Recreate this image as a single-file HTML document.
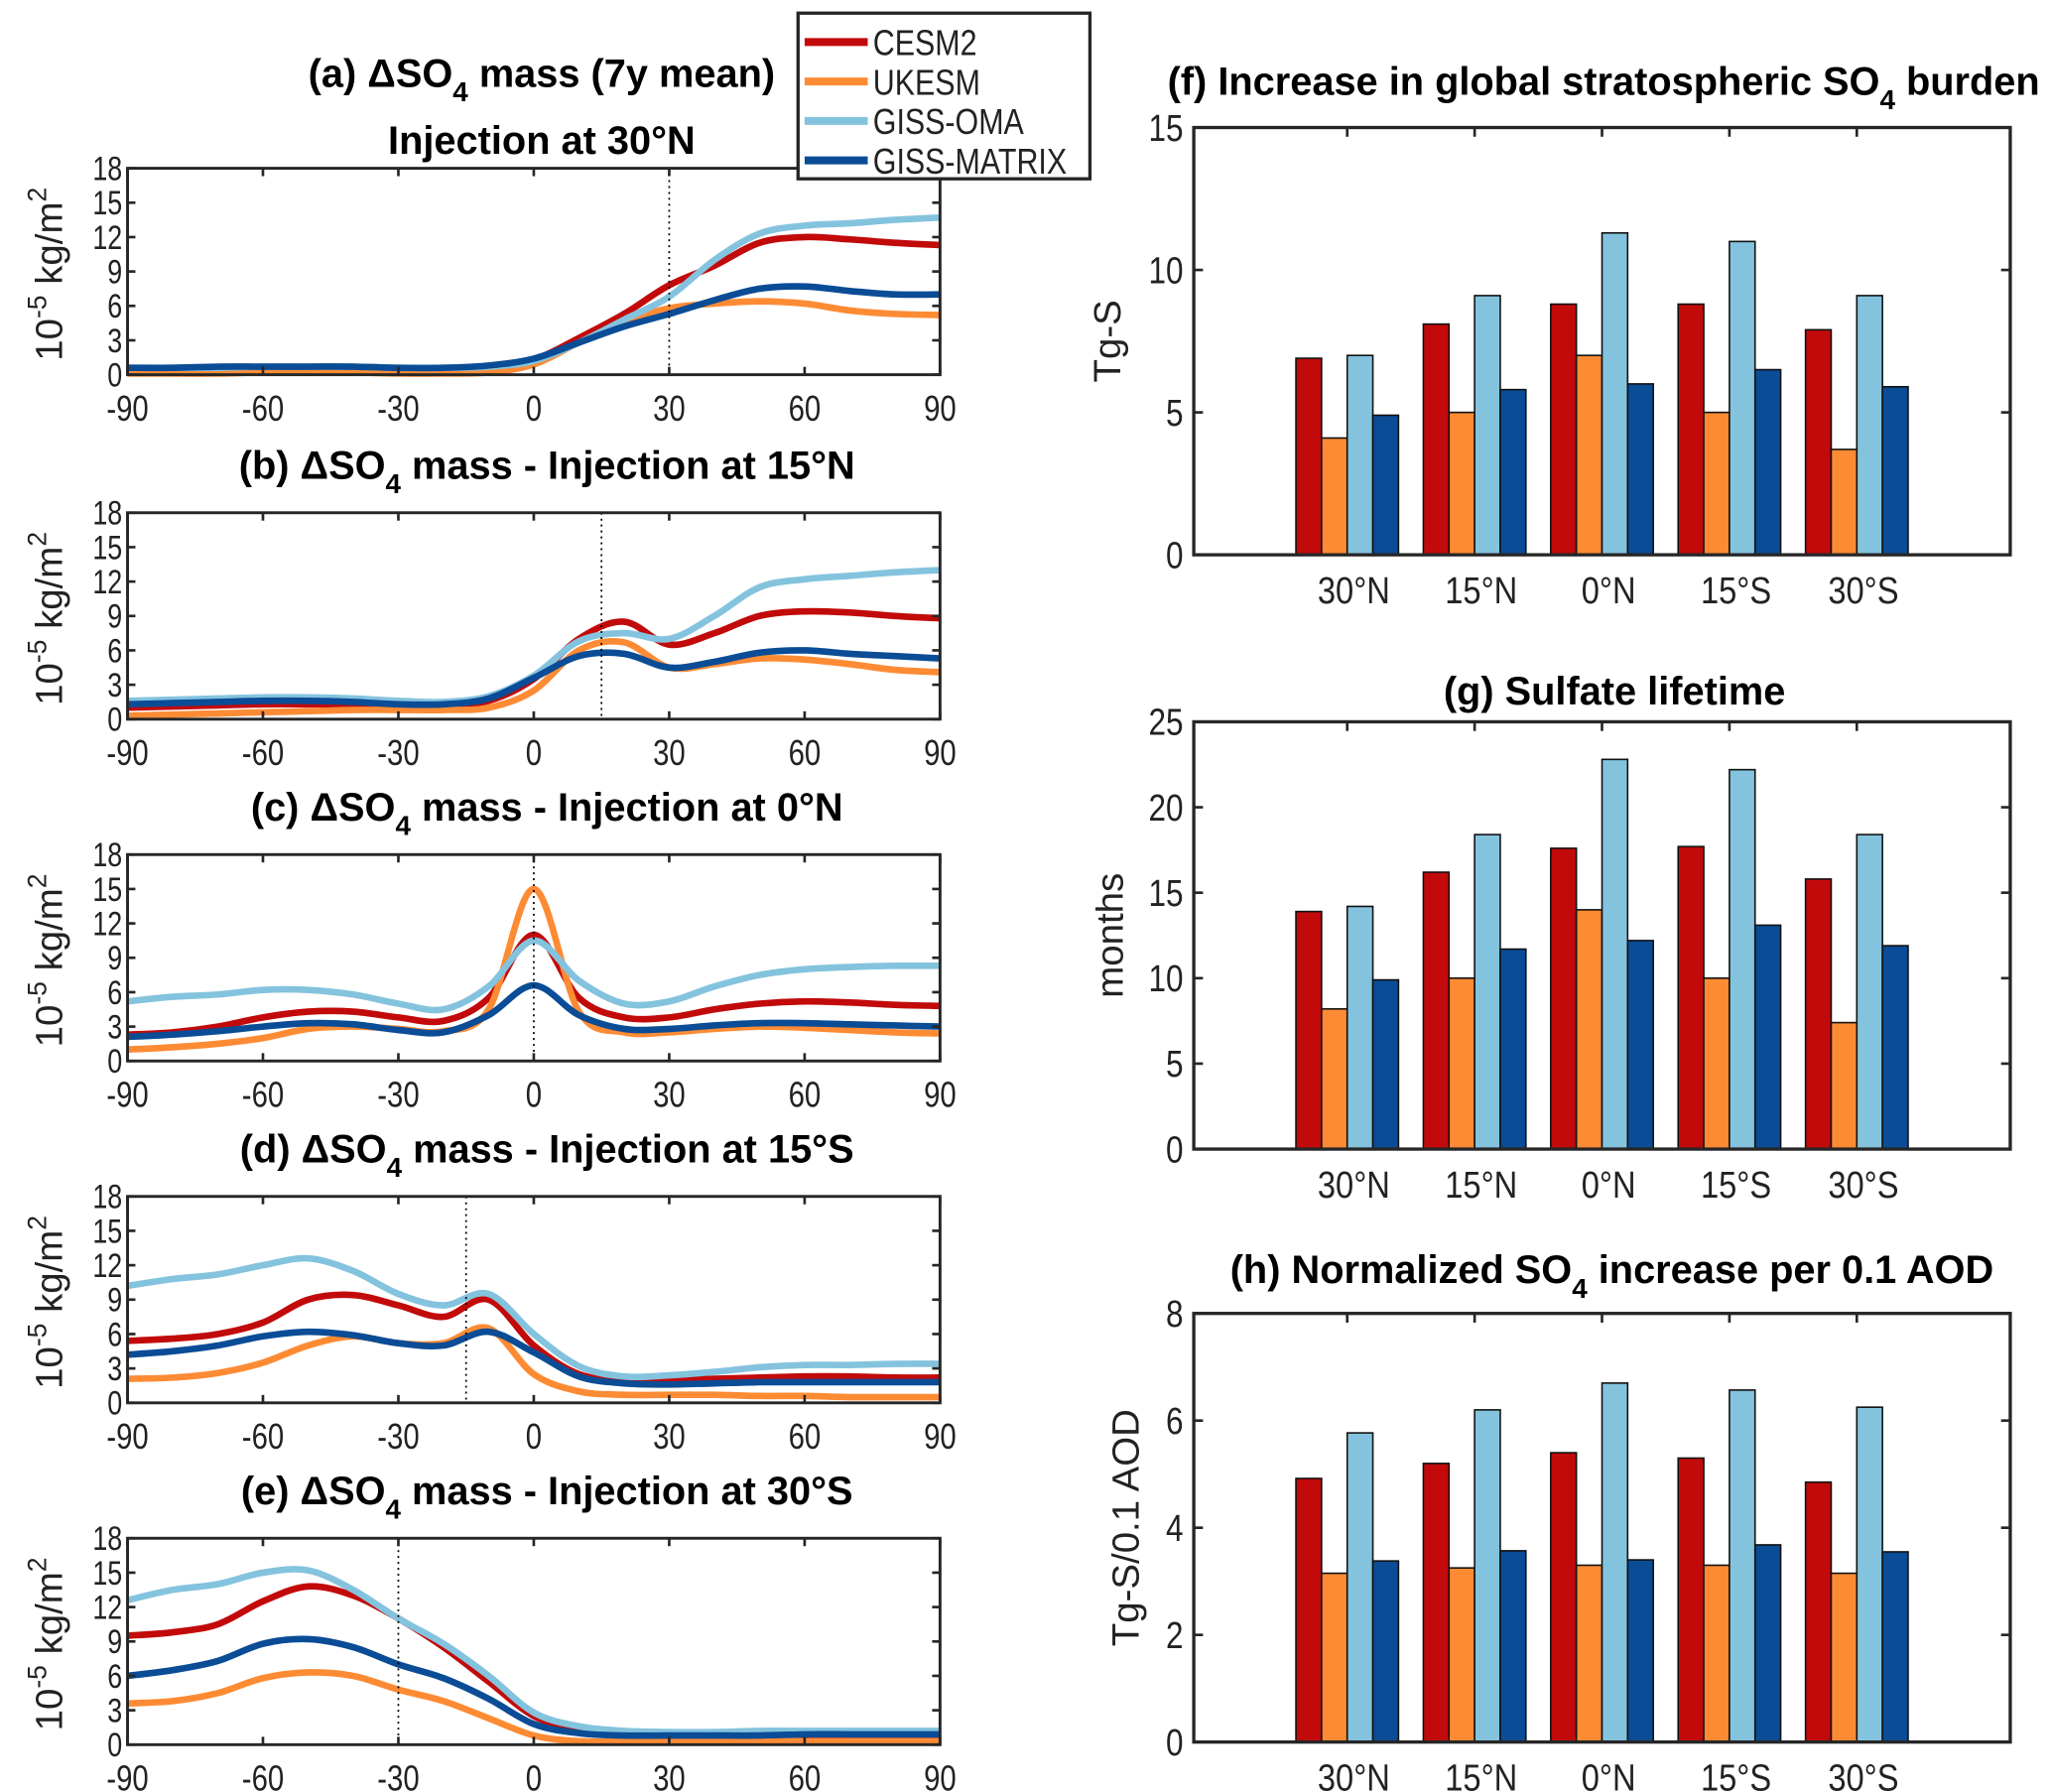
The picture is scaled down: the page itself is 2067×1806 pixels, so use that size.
<!DOCTYPE html>
<html><head><meta charset="utf-8"><style>
html,body{margin:0;padding:0;background:#fff;}
svg{display:block;}
text{font-family:"Liberation Sans",sans-serif;fill:#222;}
.t{font-weight:bold;fill:#000;font-family:"Liberation Sans",sans-serif;}
</style></head><body>
<svg id="fig" width="2067" height="1806" viewBox="0 0 1560 1363" preserveAspectRatio="none" xmlns="http://www.w3.org/2000/svg"></svg>
<script>
const lats=[-90,-80,-70,-60,-50,-40,-30,-20,-10,0,10,20,30,40,50,60,70,80,90];
const modelNames=["CESM2","UKESM","GISS-OMA","GISS-MATRIX"];
const colors=["#c20a0a","#fd8b34","#84c3de","#0a4c96"];
const injLat=[30,15,0,-15,-30];
const aCESM=[0.4,0.4,0.4,0.5,0.5,0.5,0.4,0.4,0.6,1.3,3.2,5.3,7.8,9.5,11.5,12,11.8,11.5,11.3];
const aUK=[0.1,0.1,0.1,0.2,0.2,0.2,0.1,0.1,0.2,0.9,2.8,4.6,5.8,6.2,6.4,6.2,5.6,5.3,5.2];
const aOMA=[0.6,0.6,0.6,0.7,0.7,0.7,0.6,0.6,0.7,1.2,2.8,4.8,6.8,10,12.3,13,13.2,13.5,13.7];
const aMAT=[0.6,0.6,0.7,0.7,0.7,0.7,0.6,0.6,0.8,1.4,2.8,4.2,5.3,6.5,7.5,7.7,7.3,7.0,7.0];
const bCESM=[1.0,1.1,1.2,1.3,1.3,1.3,1.2,1.2,1.6,3.5,7.0,8.5,6.5,7.5,9.0,9.4,9.3,9.0,8.8];
const bUK=[0.3,0.4,0.5,0.6,0.7,0.8,0.8,0.8,1.0,2.5,6.0,6.7,4.5,4.8,5.3,5.2,4.8,4.3,4.1];
const bOMA=[1.6,1.7,1.8,1.9,1.9,1.8,1.6,1.5,2.0,3.8,6.8,7.5,7.0,9.0,11.5,12.2,12.5,12.8,13.0];
const bMAT=[1.3,1.4,1.5,1.6,1.6,1.5,1.3,1.3,1.8,3.6,5.5,5.7,4.5,5.0,5.8,6.0,5.7,5.5,5.3];
const cCESM=[2.3,2.5,3.0,3.8,4.3,4.3,3.8,3.5,5.5,11.0,5.5,3.8,3.8,4.5,5.0,5.2,5.1,4.9,4.8];
const cUK=[1.0,1.2,1.5,2.0,2.8,3.0,2.8,2.6,4.5,15.0,4.3,2.5,2.5,2.8,3.0,2.9,2.7,2.5,2.4];
const cOMA=[5.2,5.6,5.8,6.2,6.2,5.8,5.0,4.5,6.5,10.5,7.0,5.0,5.2,6.5,7.5,8.0,8.2,8.3,8.3];
const cMAT=[2.1,2.3,2.6,3.0,3.3,3.2,2.7,2.5,4.0,6.6,4.0,2.8,2.8,3.1,3.3,3.3,3.2,3.1,3.0];
const dCESM=[5.4,5.6,6.0,7.0,9.0,9.4,8.5,7.5,9.0,5.0,2.5,2.0,2.0,2.1,2.2,2.3,2.3,2.2,2.2];
const dUK=[2.1,2.2,2.6,3.5,5.0,5.8,5.2,5.2,6.5,2.5,1.0,0.7,0.7,0.7,0.6,0.6,0.5,0.5,0.5];
const dOMA=[10.2,10.8,11.2,12.0,12.6,11.5,9.5,8.5,9.5,6.0,3.2,2.3,2.4,2.7,3.1,3.3,3.3,3.4,3.4];
const dMAT=[4.2,4.5,5.0,5.8,6.2,5.9,5.2,5.0,6.2,4.4,2.3,1.7,1.6,1.7,1.8,1.8,1.8,1.8,1.8];
const eCESM=[9.5,9.8,10.5,12.5,13.8,13.0,11.0,8.5,5.5,2.5,1.3,0.9,0.8,0.8,0.8,0.8,0.8,0.7,0.7];
const eUK=[3.6,3.8,4.5,5.8,6.3,6.0,4.8,3.8,2.3,0.8,0.3,0.3,0.3,0.3,0.3,0.3,0.3,0.3,0.3];
const eOMA=[12.6,13.5,14.0,15.0,15.2,13.5,11.0,8.8,6.0,2.8,1.6,1.2,1.1,1.1,1.2,1.2,1.2,1.2,1.2];
const eMAT=[6.0,6.5,7.3,8.8,9.2,8.5,7.0,5.8,4.0,1.8,1.0,0.8,0.8,0.8,0.8,0.9,0.9,0.9,0.9];
const lineYTicks=[0,3,6,9,12,15,18];
const lineXTicks=[-90,-60,-30,0,30,60,90];
const categories=["30°N","15°N","0°N","15°S","30°S"];
const fCESM=[6.9,8.1,8.8,8.8,7.9];
const fUK=[4.1,5.0,7.0,5.0,3.7];
const fOMA=[7.0,9.1,11.3,11.0,9.1];
const fMAT=[4.9,5.8,6.0,6.5,5.9];
const gCESM=[13.9,16.2,17.6,17.7,15.8];
const gUK=[8.2,10.0,14.0,10.0,7.4];
const gOMA=[14.2,18.4,22.8,22.2,18.4];
const gMAT=[9.9,11.7,12.2,13.1,11.9];
const hCESM=[4.92,5.2,5.4,5.3,4.85];
const hUK=[3.15,3.25,3.3,3.3,3.15];
const hOMA=[5.77,6.2,6.7,6.57,6.25];
const hMAT=[3.38,3.57,3.4,3.68,3.55];
const fTicks=[0,5,10,15];
const gTicks=[0,5,10,15,20,25];
const hTicks=[0,2,4,6,8];

const svg=document.getElementById('fig');
const NS="http://www.w3.org/2000/svg";
function mk(tag,attrs,parent){const e=document.createElementNS(NS,tag);for(const k in attrs)e.setAttribute(k,attrs[k]);(parent||svg).appendChild(e);return e;}
function txt(s,x,y,size,anchor,parent,cls){const t=mk('text',{x:x,y:y,'font-size':size,'text-anchor':anchor||'middle'},parent);if(cls)t.setAttribute('class',cls);t.textContent=s;return t;}
function ntxt(s,x,y,size,anchor,parent,sx){const t=mk('text',{x:0,y:0,'font-size':size,'text-anchor':anchor||'middle',transform:'translate('+x+','+y+') scale('+(sx||0.8)+',1)'},parent);t.textContent=s;return t;}

function smoothPath(pts){let d="M"+pts[0][0]+","+pts[0][1];for(let i=0;i<pts.length-1;i++){const p0=pts[Math.max(0,i-1)],p1=pts[i],p2=pts[i+1],p3=pts[Math.min(pts.length-1,i+2)];const c1=[p1[0]+(p2[0]-p0[0])/6,p1[1]+(p2[1]-p0[1])/6];const c2=[p2[0]-(p3[0]-p1[0])/6,p2[1]-(p3[1]-p1[1])/6];d+=" C"+c1[0]+","+c1[1]+" "+c2[0]+","+c2[1]+" "+p2[0]+","+p2[1];}return d;}

const linePanels=[
 {id:'a',top:128,series:[aCESM,aUK,aOMA,aMAT]},
 {id:'b',top:390,series:[bCESM,bUK,bOMA,bMAT]},
 {id:'c',top:650,series:[cCESM,cUK,cOMA,cMAT]},
 {id:'d',top:910,series:[dCESM,dUK,dOMA,dMAT]},
 {id:'e',top:1170,series:[eCESM,eUK,eOMA,eMAT]}];
const L=97,R=715,H=157;
const panelTitles=["(b) ΔSO","(c) ΔSO","(d) ΔSO","(e) ΔSO"];
const panelTitleRest=["  mass - Injection at 15°N","  mass - Injection at 0°N","  mass - Injection at 15°S","  mass - Injection at 30°S"];

linePanels.forEach((p,pi)=>{
  const g=mk('g',{});
  
  
  const B=p.top+H;
  const xs=v=>L+(v+90)/180*(R-L), ys=v=>B-v/18*H;
  p.series.forEach((s,si)=>{
    const pts=lats.map((la,i)=>[xs(la),ys(s[i])]);
    const path=mk('path',{d:smoothPath(pts),fill:'none',stroke:colors[si],'stroke-width':5,'stroke-linejoin':'round','stroke-linecap':'butt'},g);
    
    
  });
  const dl=mk('line',{x1:xs(injLat[pi]),x2:xs(injLat[pi]),y1:p.top,y2:B,stroke:'#000','stroke-width':1.3,'stroke-dasharray':'1.5,3'},g);
  
  
  mk('rect',{x:L,y:p.top,width:R-L,height:H,fill:'none',stroke:'#262626','stroke-width':2.2},g);
  lineYTicks.forEach(v=>{const y=ys(v);
    mk('line',{x1:L,x2:L+6,y1:y,y2:y,stroke:'#262626','stroke-width':2},g);
    mk('line',{x1:R,x2:R-6,y1:y,y2:y,stroke:'#262626','stroke-width':2},g);
    const t=ntxt(String(v),L-4,y+9,26,'end',g,0.78);
    
    
  });
  lineXTicks.forEach(v=>{const x=xs(v);
    mk('line',{x1:x,x2:x,y1:B,y2:B-6,stroke:'#262626','stroke-width':2},g);
    mk('line',{x1:x,x2:x,y1:p.top,y2:p.top+6,stroke:'#262626','stroke-width':2},g);
    const t=ntxt(String(v),x,B+35,27,'middle',g,0.82);
    
    
  });
  const yl=mk('text',{x:0,y:0,'font-size':29,'text-anchor':'middle',transform:'translate(47,'+(p.top+H/2+2)+') rotate(-90)'},g);
  
  
  yl.innerHTML='10<tspan dy="-12" font-size="20">-5</tspan><tspan dy="12"> kg/m</tspan><tspan dy="-12" font-size="20">2</tspan>';
  if(pi===0){
    const t=mk('text',{x:412,y:66,'font-size':30,'text-anchor':'middle',class:'t'},g);
    
    
    t.innerHTML='(a) ΔSO<tspan dy="11" font-size="21">4</tspan><tspan dy="-11">  mass (7y mean)</tspan>';
    const t2=txt('Injection at 30°N',412,117,30,'middle',g,'t');
    
    
  } else {
    const t=mk('text',{x:416,y:p.top-26,'font-size':30,'text-anchor':'middle',class:'t'},g);
    
    
    t.innerHTML=panelTitles[pi-1]+'<tspan dy="11" font-size="21">4</tspan><tspan dy="-11">'+panelTitleRest[pi-1]+'</tspan>';
  }
});

const lg=mk('g',{});


mk('rect',{x:607,y:10,width:222,height:126,fill:'#fff',stroke:'#262626','stroke-width':2.5},lg);
modelNames.forEach((n,i)=>{const y=32+i*30;
  const e=mk('g',{},lg);
  
  
  mk('line',{x1:612,x2:660,y1:y,y2:y,stroke:colors[i],'stroke-width':6},e);
  ntxt(n,664,y+10,27,'start',e,0.85);
});

const barPanels=[
 {id:'f',top:97,bottom:422,max:15,ticks:fTicks,series:[fCESM,fUK,fOMA,fMAT],ylab:'Tg-S',ylx:852,title:'(f) Increase in global stratospheric SO',sub:'4',rest:'  burden',tx:888,ty:72,anchor:'start'},
 {id:'g',top:549,bottom:874,max:25,ticks:gTicks,series:[gCESM,gUK,gOMA,gMAT],ylab:'months',ylx:854,title:'(g) Sulfate lifetime',sub:'',rest:'',tx:1228,ty:536,anchor:'middle'},
 {id:'h',top:999,bottom:1325,max:8,ticks:hTicks,series:[hCESM,hUK,hOMA,hMAT],ylab:'Tg-S/0.1 AOD',ylx:866,title:'(h) Normalized SO',sub:'4',rest:'  increase per 0.1 AOD',tx:1226,ty:976,anchor:'middle'}];
const BL=908,BR=1529;
barPanels.forEach(p=>{
  const g=mk('g',{});
  
  
  const ys=v=>p.bottom-v/p.max*(p.bottom-p.top);
  const xc=i=>(BL+BR)/2+(i-2)*96.9;
  const bw=19.5;
  p.series.forEach((s,si)=>{
    s.forEach((v,ci)=>{
      const x=xc(ci)-2*bw+si*bw;
      const r=mk('rect',{x:x,y:ys(v),width:bw,height:ys(0)-ys(v),fill:colors[si],stroke:'#111','stroke-width':1.2},g);
      
      
    });
  });
  mk('rect',{x:BL,y:p.top,width:BR-BL,height:p.bottom-p.top,fill:'none',stroke:'#262626','stroke-width':2.5},g);
  p.ticks.forEach(v=>{const y=ys(v);
    mk('line',{x1:BL,x2:BL+7,y1:y,y2:y,stroke:'#262626','stroke-width':2},g);
    mk('line',{x1:BR,x2:BR-7,y1:y,y2:y,stroke:'#262626','stroke-width':2},g);
    const t=ntxt(String(v),BL-8,y+10,29,'end',g,0.82);
    
    
  });
  categories.forEach((c,ci)=>{const x=xc(ci);
    mk('line',{x1:x,x2:x,y1:p.top,y2:p.top+7,stroke:'#262626','stroke-width':2},g);
    const t=ntxt(c,x+5,p.bottom+37,29,'middle',g,0.85);
    
    
  });
  const yl=txt(p.ylab,0,0,29,'middle',g);
  yl.setAttribute('transform','translate('+p.ylx+','+((p.top+p.bottom)/2)+') rotate(-90)');
  
  
  const t=mk('text',{x:p.tx,y:p.ty,'font-size':30,'text-anchor':p.anchor,class:'t'},g);
  
  
  t.innerHTML=p.title+(p.sub?'<tspan dy="11" font-size="21">'+p.sub+'</tspan><tspan dy="-11">'+p.rest+'</tspan>':'');
});
</script>
</body></html>
